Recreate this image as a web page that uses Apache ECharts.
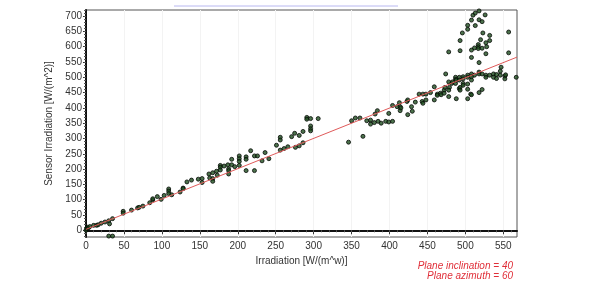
<!DOCTYPE html>
<html>
<head>
<meta charset="utf-8">
<script src="https://cdn.jsdelivr.net/npm/echarts@6/dist/echarts.min.js"></script>
<style>html,body{margin:0;padding:0;background:#fff}#c{width:589px;height:297px}</style>
</head>
<body>
<div id="c"></div>
<script>
// Measured points: irradiation (x) and sensor irradiation (y)
const irradiation = [
  0,1,2,3,5,10,14,16,20,25,30,31,35,30,35,49,49,60,68,70,75,84,88,88,94,99,103,109,109,109,113,124,128,128,
  133,139,148,153,153,162,163,167,167,167,172,173,177,177,177,182,187,188,188,188,192,192,196,202,202,202,202,
  211,211,211,217,222,222,226,232,236,241,251,256,256,256,261,266,271,275,276,281,281,286,286,
  291,291,296,296,296,296,306,
  346,350,355,361,365,370,375,375,380,381,384,385,389,395,399,399,404,404,410,414,414,413,415,423,424,424,429,430,434,
  439,444,443,444,448,448,454,459,459,463,463,467,468,472,472,473,474,478,479,478,478,482,483,487,487,487,488,488,
  492,492,492,493,493,497,497,497,497,503,503,503,503,503,507,508,508,508,508,512,518,518,518,522,522,527,527,532,
  537,537,541,541,546,546,547,552,552,553,567,
  478,493,493,496,503,503,510,508,508,513,513,508,512,517,517,517,518,518,518,522,520,522,523,526,527,528,527,532,532,557,557
];
const sensorIrradiation = [
  0,5,10,7,12,16,16,18,23,27,31,21,38,-19,-19,62,56,66,73,75,79,90,99,103,110,101,114,135,128,120,116,125,138,136,
  158,164,167,169,156,184,171,188,169,160,193,180,212,206,197,210,214,201,195,184,232,214,208,243,234,225,212,
  240,232,195,260,243,195,243,227,254,234,278,304,295,262,267,273,306,317,271,310,276,323,286,
  369,363,365,341,332,325,365,
  288,358,367,367,307,358,360,347,352,380,391,356,350,356,382,354,356,408,404,404,391,417,400,421,378,426,404,389,419,
  445,445,421,415,426,445,450,469,426,445,441,448,443,458,448,467,511,485,467,458,437,480,485,500,493,480,491,430,
  500,491,463,467,458,502,495,480,474,507,500,478,461,430,445,511,502,491,443,507,517,511,450,511,460,507,500,507,
  511,500,509,496,507,520,533,504,495,508,500,
  583,620,587,645,670,657,703,687,589,710,669,565,596,607,600,594,717,688,548,682,623,595,645,704,613,600,577,637,620,648,580
];
// Trend line endpoints
const trendX = [0, 568];
const trendY = [3, 566];
// Tick labels
const xTicks = [0,50,100,150,200,250,300,350,400,450,500,550];
const yTicks = [0,50,100,150,200,250,300,350,400,450,500,550,600,650,700];
const xMinor = [];
for (let v = 0; v <= 560; v += 10) xMinor.push(v);
const yMinor = [];
for (let v = -20; v <= 720; v += 10) yMinor.push(v);

const n = Math.min(irradiation.length, sensorIrradiation.length);
const pts = [];
for (let i = 0; i < n; i++) pts.push([irradiation[i], sensorIrradiation[i]]);
const trend = trendX.map((x, i) => [x, trendY[i]]);

const font = 'Liberation Sans, Arial, sans-serif';
const chart = echarts.init(document.getElementById('c'), null, {renderer: 'canvas'});
chart.setOption({
  animation: false,
  backgroundColor: '#fff',
  grid: {left: 86, right: 72, top: 10, bottom: 60, show: true, borderColor: '#555', borderWidth: 1, containLabel: false},
  xAxis: [{
    type: 'value', min: 0, max: 568,
    name: 'Irradiation [W/(m^w)]', nameLocation: 'middle', nameGap: 11,
    nameTextStyle: {fontFamily: font, fontSize: 10, color: '#333'},
    axisLine: {show: true, lineStyle: {color: '#111', width: 2}},
    axisTick: {show: true, length: 4, customValues: xTicks, lineStyle: {color: '#333'}},
    axisLabel: {customValues: xTicks, margin: 4, fontFamily: font, fontSize: 10, color: '#333'},
    splitLine: {show: true, lineStyle: {color: '#f3f3f3', width: 1}}
  }, {
    type: 'value', min: 0, max: 568, position: 'bottom', gridIndex: 0,
    axisLine: {show: false},
    axisTick: {show: true, length: 2, customValues: xMinor, lineStyle: {color: '#555'}},
    axisLabel: {show: false}, splitLine: {show: false}
  }],
  yAxis: [{
    type: 'value', min: -22, max: 720,
    name: 'Sensor Irradiation [W/(m^2)]', nameLocation: 'middle', nameGap: 22, nameRotate: 90,
    nameTextStyle: {fontFamily: font, fontSize: 10, color: '#333'},
    axisLine: {show: true, lineStyle: {color: '#111', width: 2}},
    axisTick: {show: true, length: 3, customValues: yTicks, lineStyle: {color: '#333'}},
    axisLabel: {customValues: yTicks, margin: 4, fontFamily: font, fontSize: 10, color: '#333'},
    splitLine: {show: false}
  }, {
    type: 'value', min: -22, max: 720, position: 'left',
    axisLine: {show: false},
    axisTick: {show: true, length: 2, customValues: yMinor, lineStyle: {color: '#555'}},
    axisLabel: {show: false}, splitLine: {show: false}
  }],
  series: [{
    type: 'scatter', xAxisIndex: 0, yAxisIndex: 0,
    data: pts, symbol: 'circle', symbolSize: 4,
    itemStyle: {color: '#1f4f1f', borderColor: '#050a05', borderWidth: 1},
    clip: true, z: 2
  }, {
    type: 'line', xAxisIndex: 0, yAxisIndex: 0,
    data: trend, showSymbol: false, symbol: 'none',
    lineStyle: {color: '#e05a5a', width: 1}, z: 3
  }],
  graphic: [
    {type: 'line', shape: {x1: 174, y1: 6, x2: 398, y2: 6}, style: {stroke: '#b8b8f0', lineWidth: 1}},
    {type: 'text', right: 76, top: 261, style: {text: 'Plane inclination = 40', fill: '#e0303a', font: 'italic 10px ' + font, textAlign: 'right'}},
    {type: 'text', right: 76, top: 271, style: {text: 'Plane azimuth = 60', fill: '#e0303a', font: 'italic 10px ' + font, textAlign: 'right'}}
  ]
});
</script>
</body>
</html>
